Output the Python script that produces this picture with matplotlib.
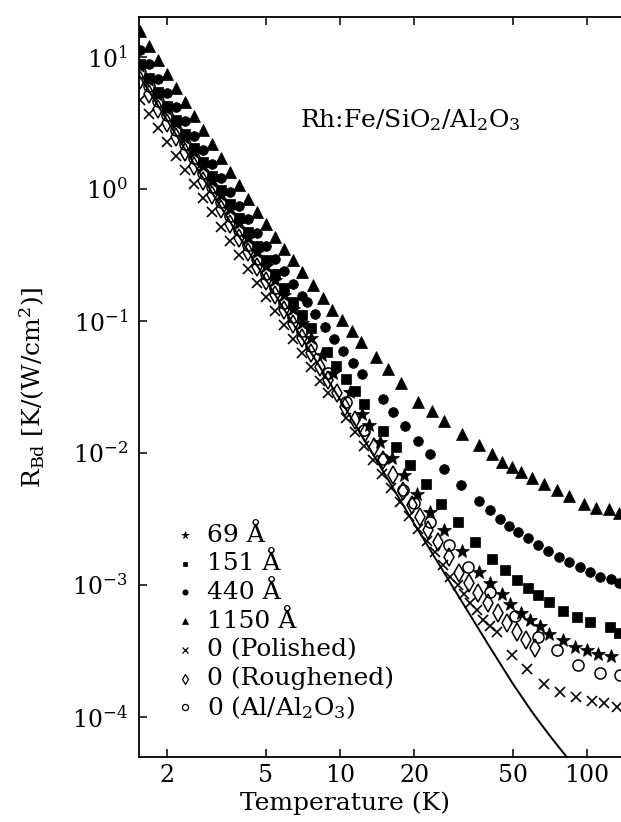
import matplotlib
matplotlib.use("Agg")
import matplotlib.pyplot as plt
from matplotlib.ticker import FixedLocator, NullLocator, FixedFormatter

plt.rcParams['font.family'] = ['DejaVu Serif']
plt.rcParams['mathtext.fontset'] = 'dejavuserif'

# common low temperature grid (K)
t_low = [1.55, 1.69, 1.83, 1.99, 2.17, 2.36, 2.56, 2.79, 3.03, 3.30, 3.59, 3.90,
         4.24, 4.61, 5.02, 5.46, 5.93, 6.45, 7.02]

# 1150 A
t_1150 = t_low + [7.78, 8.51, 9.31, 10.2, 11.2, 12.2, 14.0, 15.6, 17.7, 20.7, 23.5, 26.4,
                  31.3, 36.5, 41.1, 45.4, 49.6, 54.0, 60.1, 67.2, 75.4, 84.8, 97.0, 108.7,
                  123, 135]
r_1150 = [15.7, 12.2, 9.49, 7.43, 5.82, 4.56, 3.57, 2.80, 2.19, 1.72, 1.35, 1.07, 0.847,
          0.670, 0.543, 0.436, 0.354, 0.290, 0.235,
          0.188, 0.149, 0.121, 0.102, 0.0845, 0.069, 0.0537, 0.0431, 0.0337, 0.0245, 0.0208,
          0.01747, 0.0140, 0.0115, 9.83e-3, 8.59e-3, 7.79e-3, 7.22e-3, 6.43e-3, 5.82e-3,
          5.24e-3, 4.72e-3, 4.08e-3, 3.85e-3, 3.75e-3, 3.49e-3]

# 440 A
t_440 = t_low + [7.33, 7.92, 8.70, 9.48, 10.3, 11.25, 12.27, 14.89, 16.44, 18.33, 20.7, 23.2,
                 26.4, 31.0, 36.5, 40.5, 44.4, 48.3, 52.7, 57.8, 63.2, 69.7, 77.0, 84.8, 93.7,
                 102.8, 112.9, 124.7, 135]
r_440 = [11.3, 8.80, 6.86, 5.35, 4.18, 3.26, 2.54, 1.99, 1.55, 1.21, 0.944, 0.743, 0.588,
         0.466, 0.372, 0.297, 0.238, 0.192, 0.156,
         0.140, 0.114, 0.0905, 0.0727, 0.0595, 0.0483, 0.0397, 0.0257, 0.0205, 0.0161, 0.0124,
         9.77e-3, 7.54e-3, 5.69e-3, 4.34e-3, 3.67e-3, 3.15e-3, 2.81e-3, 2.53e-3, 2.26e-3,
         2.01e-3, 1.82e-3, 1.64e-3, 1.49e-3, 1.36e-3, 1.25e-3, 1.16e-3, 1.12e-3, 1.03e-3]

# 151 A
t_151 = t_low + [7.63, 8.83, 9.66, 10.56, 11.50, 12.51, 14.97, 16.86, 19.13, 22.23, 25.62,
                 30.04, 35.27, 41.36, 46.77, 52.07, 57.83, 63.5, 69.9, 80.2, 90.8, 102.8,
                 123.9, 135]
r_151 = [8.85, 6.93, 5.43, 4.25, 3.33, 2.61, 2.05, 1.60, 1.25, 0.982, 0.769, 0.602, 0.472,
         0.370, 0.290, 0.227, 0.178, 0.139, 0.111,
         0.0885, 0.0585, 0.0460, 0.0366, 0.0294, 0.0236, 0.01476, 0.01104, 8.07e-3, 5.79e-3,
         4.12e-3, 3.01e-3, 2.12e-3, 1.58e-3, 1.31e-3, 1.10e-3, 9.52e-4, 8.34e-4, 7.43e-4,
         6.38e-4, 5.77e-4, 5.27e-4, 4.77e-4, 4.35e-4]

# 69 A
t_69 = t_low + [7.63, 8.45, 9.40, 10.98, 12.24, 13.10, 14.58, 16.19, 18.16, 20.48, 23.10,
                26.27, 31.10, 36.64, 40.61, 45.15, 48.79, 54.15, 59.00, 64.54, 70.38, 80.2,
                89.4, 99.7, 111.1, 125.1]
r_69 = [8.55, 6.66, 5.19, 4.04, 3.15, 2.45, 1.91, 1.49, 1.16, 0.906, 0.705, 0.549, 0.429,
        0.334, 0.260, 0.203, 0.158, 0.123, 0.0959,
        0.0747, 0.0553, 0.0406, 0.0291, 0.01975, 0.01644, 0.01211, 9.12e-3, 6.76e-3, 4.89e-3,
        3.60e-3, 2.63e-3, 1.81e-3, 1.25e-3, 1.03e-3, 8.51e-4, 7.23e-4, 6.15e-4, 5.41e-4,
        4.86e-4, 4.25e-4, 3.83e-4, 3.41e-4, 3.22e-4, 3.00e-4, 2.90e-4]

# 0 A, polished
t_pol = t_low + [7.63, 8.30, 8.94, 10.58, 11.50, 12.51, 13.60, 14.79, 16.09, 17.49, 19.02,
                 20.70, 22.50, 24.36, 26.20, 27.88, 30.13, 31.77, 33.60, 35.76, 38.03, 40.48,
                 43.10, 49.56, 57.33, 66.98, 77.74, 90.0, 105.1, 117.2, 131.9]
r_pol = [4.72, 3.69, 2.89, 2.26, 1.77, 1.386, 1.083, 0.849, 0.665, 0.520, 0.407, 0.318,
         0.249, 0.195, 0.153, 0.120, 0.0936, 0.0733, 0.0574,
         0.0449, 0.0352, 0.0283, 0.01841, 0.01442, 0.01130, 8.85e-3, 6.93e-3, 5.43e-3,
         4.25e-3, 3.33e-3, 2.66e-3, 2.15e-3, 1.78e-3, 1.42e-3, 1.156e-3, 1.0e-3, 8.55e-4,
         7.31e-4, 6.47e-4, 5.43e-4, 4.89e-4, 4.41e-4, 2.95e-4, 2.31e-4, 1.78e-4, 1.54e-4,
         1.43e-4, 1.32e-4, 1.28e-4, 1.20e-4]

# 0 A, roughened
t_rough = t_low + [7.63, 8.30, 8.94, 9.70, 10.47, 11.50, 12.62, 13.73, 14.98, 16.39, 17.99,
                   19.56, 21.08, 22.78, 25.0, 27.70, 30.41, 33.38, 36.30, 39.85, 43.74, 47.31,
                   52.07, 56.62, 61.58]
r_rough = [6.70, 5.21, 4.06, 3.16, 2.46, 1.91, 1.49, 1.16, 0.904, 0.703, 0.547, 0.426,
           0.332, 0.258, 0.201, 0.157, 0.122, 0.0949, 0.0738,
           0.0574, 0.0448, 0.0357, 0.0283, 0.02243, 0.01778, 0.01418, 0.01110, 8.85e-3,
           6.81e-3, 5.15e-3, 4.04e-3, 3.27e-3, 2.61e-3, 2.13e-3, 1.62e-3, 1.24e-3, 1.035e-3,
           8.65e-4, 7.26e-4, 6.11e-4, 5.13e-4, 4.43e-4, 3.86e-4, 3.34e-4]

# 0 A, Al/Al2O3
t_al = t_low + [7.63, 8.94, 10.58, 12.51, 14.93, 18.04, 19.93, 23.14, 27.70, 33.06, 40.48,
                51.11, 63.5, 75.4, 92.2, 112.9, 136.0]
r_al = [7.70, 5.99, 4.66, 3.62, 2.82, 2.19, 1.705, 1.33, 1.03, 0.803, 0.624, 0.486, 0.378,
        0.294, 0.229, 0.178, 0.138, 0.1076, 0.0837,
        0.0651, 0.0405, 0.0245, 0.01483, 9.01e-3, 5.24e-3, 4.16e-3, 3.00e-3, 2.01e-3,
        1.376e-3, 8.90e-4, 5.82e-4, 4.06e-4, 3.22e-4, 2.50e-4, 2.17e-4, 2.08e-4]

# theory curve
t_line = [1.535, 3, 6, 10, 15, 20, 30, 40, 50, 60, 70, 80, 90]
r_line = [7.3, 0.97, 0.119, 0.0255, 7.2e-3, 2.9e-3, 8.4e-4, 3.5e-4, 1.8e-4, 1.09e-4,
          7.4e-5, 5.4e-5, 4.1e-5]

labels = ['69 Å', '151 Å', '440 Å', '1150 Å', '0 (Polished)', '0 (Roughened)',
          r'0 (Al/Al$_2$O$_3$)']
x_ticks = [2, 5, 10, 20, 50, 100]
x_tick_labels = ['2', '5', '10', '20', '50', '100']

fig = plt.figure(figsize=(6.21, 8.22), dpi=100)
ax = fig.add_axes([139 / 621, 65 / 822, 482 / 621, 740 / 822])

ax.plot(t_line, r_line, color='black', lw=1.4, zorder=1)

styles = [
    (t_69, r_69, dict(marker='*', ms=10, mfc='black', mec='black', mew=0.5)),
    (t_151, r_151, dict(marker='s', ms=6.5, mfc='black', mec='black', mew=0.5)),
    (t_440, r_440, dict(marker='o', ms=7, mfc='black', mec='black', mew=0.5)),
    (t_1150, r_1150, dict(marker='^', ms=8, mfc='black', mec='black', mew=0.5)),
    (t_pol, r_pol, dict(marker='x', ms=7, mec='black', mew=1.2)),
    (t_rough, r_rough, dict(marker='d', ms=9, mfc='none', mec='black', mew=1.1)),
    (t_al, r_al, dict(marker='o', ms=8, mfc='none', mec='black', mew=1.1)),
]
for t, r, st in styles:
    z = 2 if st.get('mfc') == 'none' else 3
    ax.plot(t, r, ls='none', zorder=z, **st)

ax.set_xscale('log')
ax.set_yscale('log')
ax.set_xlim(1.535, 137.4)
ax.set_ylim(4.98e-5, 20.1)

ax.xaxis.set_major_locator(FixedLocator(x_ticks))
ax.xaxis.set_major_formatter(FixedFormatter(x_tick_labels))
ax.xaxis.set_minor_locator(NullLocator())
ax.yaxis.set_minor_locator(NullLocator())
ax.tick_params(which='major', direction='in', length=6, width=1.1, top=True,
               right=False, labelsize=17, pad=8)
ax.tick_params(axis='x', pad=5)
for s in ['left', 'bottom', 'top']:
    ax.spines[s].set_linewidth(1.3)
ax.spines['right'].set_visible(False)

ax.set_xlabel('Temperature (K)', fontsize=18)
ax.xaxis.set_label_coords(0.427, -0.047)
ax.set_ylabel(r'R$_{\rm Bd}$ [K/(W/cm$^2$)]', fontsize=18)
ax.yaxis.set_label_coords(-0.19, 0.5)

ax.text(0.334, 0.861, r'Rh:Fe/SiO$_2$/Al$_2$O$_3$', transform=ax.transAxes,
        fontsize=18, ha='left', va='center')

# legend drawn by hand, rows in axes fractions
for i, (lab, (t, r, st)) in enumerate(zip(labels, styles)):
    y = 0.300 - i * 0.0388
    st2 = dict(st)
    st2['ms'] = st['ms'] * 0.55
    st2['mew'] = min(st['mew'], 0.9)
    ax.plot([0.095], [y], transform=ax.transAxes, ls='none', clip_on=False, **st2)
    ax.text(0.141, y, lab, transform=ax.transAxes, fontsize=18, ha='left', va='center')

fig.savefig('out.png', dpi=100)
